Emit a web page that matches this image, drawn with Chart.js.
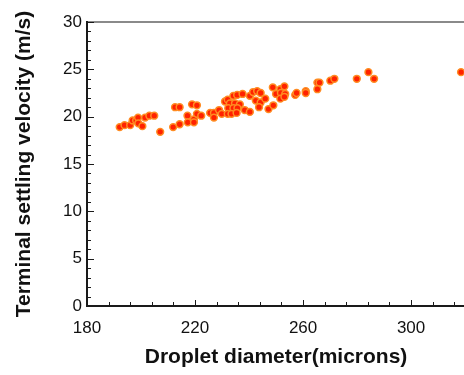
<!DOCTYPE html>
<html><head><meta charset="utf-8">
<script src="https://cdn.jsdelivr.net/npm/chart.js@4/dist/chart.umd.min.js"></script>
<style>html,body{margin:0;padding:0;background:#fff;overflow:hidden;width:464px;height:375px}
#wrap{position:absolute;left:0;top:0;width:470px;height:375px}</style>
</head><body><div id="wrap"><canvas id="c" width="470" height="375"></canvas></div>
<script>
const diameter = [192.1,193.9,196.0,196.9,198.2,198.9,199.0,200.5,201.5,203.1,204.9,207.1,211.9,212.6,214.3,214.3,217.2,217.3,218.9,219.6,219.6,220.7,220.7,222.3,225.6,227.0,227.0,228.9,229.9,231.1,232.1,234.2,235.6,237.6,232.9,234.8,236.6,232.3,234.2,235.7,232.1,233.5,235.4,238.4,240.3,240.3,241.5,243.0,244.3,242.5,244.3,246.0,243.7,247.2,249.0,248.8,250.0,251.6,253.1,251.8,253.4,251.6,253.1,257.1,257.6,261.0,261.0,265.3,266.1,265.3,270.1,271.6,279.9,284.2,286.3,318.5];
const velocity = [18.9,19.1,19.1,19.6,19.6,19.9,19.3,19.0,19.9,20.1,20.1,18.4,18.9,21.0,21.0,19.2,20.1,19.4,21.3,19.7,19.4,21.2,20.3,20.1,20.4,20.4,19.9,20.7,20.3,21.6,21.8,22.2,22.3,22.4,21.4,21.4,21.3,20.9,20.9,20.9,20.3,20.3,20.4,20.7,20.5,22.2,22.6,22.7,22.5,21.7,21.5,21.9,21.0,20.8,21.2,23.1,22.4,22.9,23.2,22.5,22.4,21.9,22.1,22.3,22.5,22.7,22.5,23.6,23.6,22.9,23.8,24.0,24.0,24.7,24.0,24.7];
const xTicks = [180,220,260,300];
const yTicks = [0,5,10,15,20,25,30];
const xTitle = 'Droplet diameter(microns)';
const yTitle = 'Terminal settling velocity (m/s)';

const points = diameter.map((d,i)=>({x:d,y:velocity[i]}));

const frame = {
  id:'frame',
  beforeDatasetsDraw(chart){
    const {ctx, chartArea:a, scales:{x,y}} = chart;
    ctx.save();
    ctx.strokeStyle='#8a8a8a'; ctx.lineWidth=2;
    ctx.beginPath(); ctx.moveTo(a.left, a.top); ctx.lineTo(a.right+2, a.top); ctx.stroke();
    ctx.strokeStyle='#1a1a1a'; ctx.lineWidth=1;
    for(let v=180; v<=320; v+=8){
      const px=Math.round(x.getPixelForValue(v))+0.5;
      const len = (v-180)%40===0 ? 6 : 4;
      ctx.beginPath(); ctx.moveTo(px,a.bottom); ctx.lineTo(px,a.bottom-len); ctx.stroke();
    }
    for(let v=0; v<=30; v+=1){
      const py=Math.round(y.getPixelForValue(v))+0.5;
      const len = v%5===0 ? 7 : 4;
      ctx.beginPath(); ctx.moveTo(a.left,py); ctx.lineTo(a.left+len,py); ctx.stroke();
    }
    ctx.strokeStyle='#1a1a1a'; ctx.lineWidth=2;
    ctx.beginPath(); ctx.moveTo(a.left, a.top-1); ctx.lineTo(a.left, a.bottom); ctx.lineTo(a.right+2, a.bottom); ctx.stroke();
    ctx.restore();
  }
};

new Chart(document.getElementById('c'), {
  type:'scatter',
  data:{datasets:[{data:points, pointRadius:3.4, pointHoverRadius:3.4, backgroundColor:'#ff2200', borderColor:'#ff8c22', borderWidth:1.5}]},
  options:{
    responsive:false, animation:false, devicePixelRatio:1,
    layout:{padding:{top:22,right:0,left:0,bottom:0}},
    plugins:{legend:{display:false}, tooltip:{enabled:false}},
    scales:{
      x:{type:'linear', min:180, max:320,
        afterBuildTicks(s){ s.ticks = xTicks.map(v=>({value:v})); },
        afterFit(s){ s.height = 69; },
        grid:{display:false, drawTicks:false}, border:{display:false},
        ticks:{color:'#111', padding:12, maxRotation:0, font:{family:'Liberation Sans, Arial', size:17}},
        title:{display:true, text:xTitle, color:'#111', font:{family:'Liberation Sans, Arial', size:21, weight:'bold'}, padding:{top:0,bottom:5}}
      },
      y:{type:'linear', min:0, max:30,
        afterBuildTicks(s){ s.ticks = yTicks.map(v=>({value:v})); },
        afterFit(s){ s.width = 87; },
        grid:{display:false, drawTicks:false}, border:{display:false},
        ticks:{color:'#111', padding:5, font:{family:'Liberation Sans, Arial', size:17}},
        title:{display:true, text:yTitle, color:'#111', font:{family:'Liberation Sans, Arial', size:21, weight:'bold'}, padding:{top:12,bottom:0}}
      }
    }
  },
  plugins:[frame]
});
</script></body></html>
